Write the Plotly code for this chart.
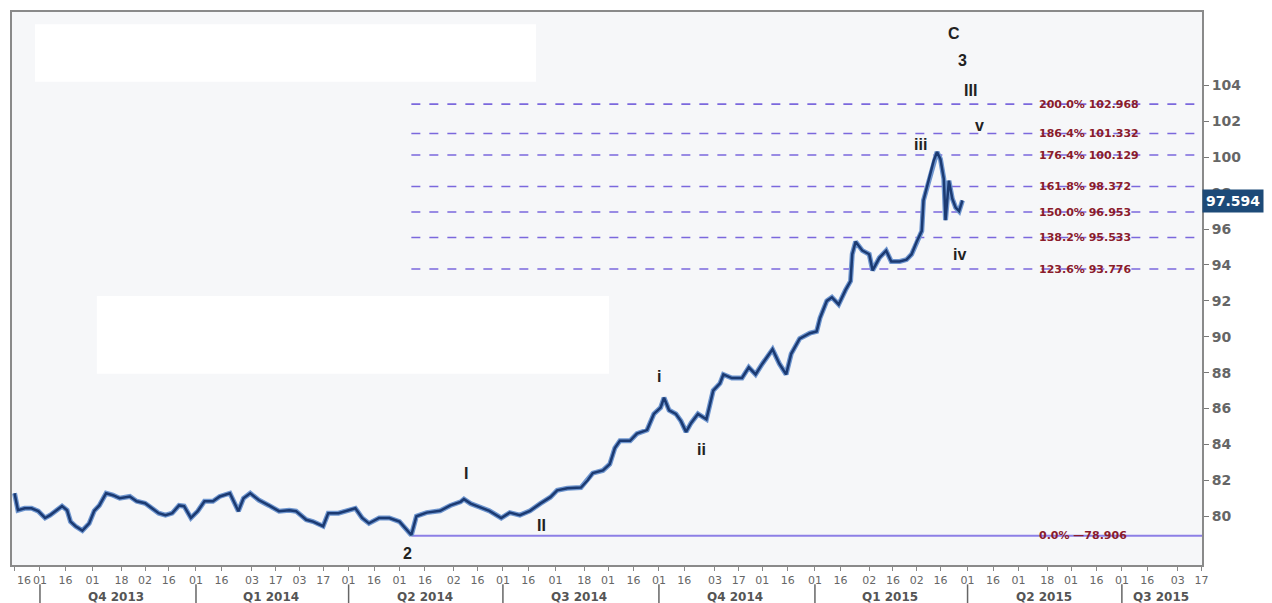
import plotly.graph_objects as go

# ---------------- data ----------------
dates = [
    "2013-09-16", "2013-09-18", "2013-09-22", "2013-09-26", "2013-09-30", "2013-10-04",
    "2013-10-07", "2013-10-11", "2013-10-14", "2013-10-17", "2013-10-19", "2013-10-22",
    "2013-10-26", "2013-10-30", "2013-11-02", "2013-11-05", "2013-11-09", "2013-11-13",
    "2013-11-17", "2013-11-23", "2013-11-27", "2013-12-02", "2013-12-06", "2013-12-10",
    "2013-12-14", "2013-12-18", "2013-12-22", "2013-12-25", "2013-12-29", "2014-01-02",
    "2014-01-06", "2014-01-11", "2014-01-15", "2014-01-21", "2014-01-26", "2014-01-29",
    "2014-02-02", "2014-02-07", "2014-02-13", "2014-02-19", "2014-02-25", "2014-03-01",
    "2014-03-07", "2014-03-11", "2014-03-17", "2014-03-20", "2014-03-26", "2014-04-01",
    "2014-04-05", "2014-04-09", "2014-04-13", "2014-04-19", "2014-04-25", "2014-05-01",
    "2014-05-06", "2014-05-08", "2014-05-11", "2014-05-17", "2014-05-25", "2014-05-31",
    "2014-06-06", "2014-06-08", "2014-06-12", "2014-06-18", "2014-06-23", "2014-06-30",
    "2014-07-05", "2014-07-11", "2014-07-17", "2014-07-23", "2014-07-29", "2014-08-02",
    "2014-08-08", "2014-08-16", "2014-08-20", "2014-08-23", "2014-08-29", "2014-09-02",
    "2014-09-05", "2014-09-08", "2014-09-14", "2014-09-18", "2014-09-24", "2014-09-28",
    "2014-10-02", "2014-10-04", "2014-10-07", "2014-10-11", "2014-10-14", "2014-10-17",
    "2014-10-20", "2014-10-24", "2014-10-29", "2014-11-02", "2014-11-06", "2014-11-08",
    "2014-11-13", "2014-11-19", "2014-11-23", "2014-11-27", "2014-12-01", "2014-12-07",
    "2014-12-11", "2014-12-15", "2014-12-18", "2014-12-23", "2014-12-29", "2015-01-02",
    "2015-01-04", "2015-01-08", "2015-01-11", "2015-01-15", "2015-01-19", "2015-01-22",
    "2015-01-23", "2015-01-25", "2015-01-29", "2015-02-02", "2015-02-04", "2015-02-08",
    "2015-02-12", "2015-02-15", "2015-02-20", "2015-02-24", "2015-02-27", "2015-03-02",
    "2015-03-05", "2015-03-06", "2015-03-09", "2015-03-12", "2015-03-14", "2015-03-16",
    "2015-03-18", "2015-03-19", "2015-03-21", "2015-03-23", "2015-03-25", "2015-03-27",
    "2015-03-29",
]
prices = [
    81.28, 80.33, 80.44, 80.44, 80.28, 79.9,
    80.06, 80.33, 80.56, 80.33, 79.7, 79.44,
    79.2, 79.6, 80.3, 80.6, 81.28, 81.17,
    81.0, 81.1, 80.83, 80.72, 80.44, 80.17,
    80.06, 80.17, 80.6, 80.56, 79.9, 80.28,
    80.83, 80.83, 81.1, 81.28, 80.28, 81.0,
    81.28, 80.9, 80.6, 80.28, 80.33, 80.28,
    79.8, 79.7, 79.44, 80.17, 80.17, 80.33,
    80.44, 79.9, 79.6, 79.9, 79.9, 79.7,
    79.2, 78.95, 80.0, 80.2, 80.3, 80.6,
    80.8, 80.95, 80.7, 80.5, 80.3, 79.9,
    80.2, 80.06, 80.3, 80.7, 81.06, 81.44,
    81.56, 81.6, 82.0, 82.4, 82.55, 82.9,
    83.8, 84.2, 84.2, 84.6, 84.8, 85.7,
    86.05, 86.6, 85.9, 85.7, 85.3, 84.7,
    85.2, 85.7, 85.4, 87.0, 87.4, 87.9,
    87.7, 87.7, 88.3, 87.9, 88.5, 89.3,
    88.5, 87.9, 89.05, 89.9, 90.2, 90.3,
    91.05, 92.0, 92.2, 91.8, 92.6, 93.1,
    94.6, 95.3, 94.8, 94.6, 93.7, 94.4,
    94.8, 94.2, 94.2, 94.3, 94.6, 95.3,
    95.9, 97.6, 98.7, 99.8, 100.3, 99.9,
    98.8, 96.5, 98.7, 97.7, 97.2, 97.0,
    97.6,
]
last_price = 97.594

fib_pcts = ["200.0%", "186.4%", "176.4%", "161.8%", "150.0%", "138.2%", "123.6%"]
fib_vals = [102.968, 101.332, 100.129, 98.372, 96.953, 95.533, 93.776]
base_pct = "0.0%"
base_val = 78.906
fib_start = "2014-05-08"

wave_labels = ["C", "3", "III", "v", "iii", "iv", "i", "ii", "I", "II", "2"]
wave_dates = ["2015-03-24", "2015-03-29", "2015-04-03", "2015-04-08", "2015-03-04",
              "2015-03-27", "2014-10-01", "2014-10-26", "2014-06-09", "2014-07-24",
              "2014-05-06"]
wave_vals = [106.9, 105.4, 103.7, 101.8, 100.7, 94.6, 87.8, 83.7, 82.4, 79.5, 77.9]

tick_dates = [
    "2013-09-16", "2013-10-01", "2013-10-16", "2013-11-01", "2013-11-18", "2013-12-02",
    "2013-12-16", "2014-01-01", "2014-01-16", "2014-02-03", "2014-02-17", "2014-03-03",
    "2014-03-17", "2014-04-01", "2014-04-16", "2014-05-01", "2014-05-16", "2014-06-02",
    "2014-06-16", "2014-07-01", "2014-07-16", "2014-08-01", "2014-08-18", "2014-09-01",
    "2014-09-16", "2014-10-01", "2014-10-16", "2014-11-03", "2014-11-17", "2014-12-01",
    "2014-12-16", "2015-01-01", "2015-01-16", "2015-02-02", "2015-02-16", "2015-03-02",
    "2015-03-16", "2015-04-01", "2015-04-16", "2015-05-01", "2015-05-18", "2015-06-01",
    "2015-06-16", "2015-07-01", "2015-07-16", "2015-08-03", "2015-08-17",
]
tick_text = [d[-2:] for d in tick_dates]

quarter_starts = ["2013-10-01", "2014-01-01", "2014-04-01", "2014-07-01",
                  "2014-10-01", "2015-01-01", "2015-04-01", "2015-07-01"]
quarter_mids = ["2013-11-15", "2014-02-14", "2014-05-16", "2014-08-15",
                "2014-11-15", "2015-02-14", "2015-05-16", "2015-07-24"]
quarter_names = ["Q4 2013", "Q1 2014", "Q2 2014", "Q3 2014",
                 "Q4 2014", "Q1 2015", "Q2 2015", "Q3 2015"]

x_range = ["2013-09-14 12:00", "2015-08-17 06:00"]
y_range = [77.28, 108.1]
y_ticks = list(range(80, 105, 2))

# ---------------- figure ----------------
fig = go.Figure()

FIB_COLOR = "#7b68dd"
LABEL_RED = "#8b1c2c"
TICK_FONT = dict(family="DejaVu Sans", size=11, color="#666666")

for p, v in zip(fib_pcts, fib_vals):
    fig.add_trace(go.Scatter(x=[fib_start, x_range[1]], y=[v, v], mode="lines",
                             line=dict(color=FIB_COLOR, width=1.6, dash="dash"),
                             hoverinfo="skip", showlegend=False))
fig.add_trace(go.Scatter(x=[fib_start, x_range[1]], y=[base_val, base_val], mode="lines",
                         line=dict(color="#8c7fe6", width=2),
                         hoverinfo="skip", showlegend=False))

# price line (light edge + dark core)
fig.add_trace(go.Scatter(x=dates, y=prices, mode="lines",
                         line=dict(color="#6f96cf", width=5),
                         hoverinfo="skip", showlegend=False))
fig.add_trace(go.Scatter(x=dates, y=prices, mode="lines",
                         line=dict(color="#1b3a72", width=2.5),
                         showlegend=False))

annotations = []
for p, v in zip(fib_pcts + [base_pct], fib_vals + [base_val]):
    txt = f"{p} {v:.3f}" if p != base_pct else f"{p} \u2014{v:.3f}"
    annotations.append(dict(x=0.861, xref="paper", y=v, yref="y", text=txt,
                            showarrow=False, xanchor="left", yanchor="middle",
                            font=dict(family="DejaVu Sans", size=11,
                                      color=LABEL_RED, weight="bold")))

for t, d, v in zip(wave_labels, wave_dates, wave_vals):
    annotations.append(dict(x=d, xref="x", y=v, yref="y", text=t, showarrow=False,
                            font=dict(family="Liberation Sans, Arial", size=16,
                                      color="#222222", weight="bold")))

annotations.append(dict(x=1.0, xref="paper", y=last_price, yref="y",
                        text=f"{last_price:.3f}", showarrow=False,
                        xanchor="left", yanchor="middle", bgcolor="#1d4a78",
                        borderpad=3,
                        font=dict(family="DejaVu Sans", size=14, color="white",
                                  weight="bold")))

# first tick label sits at the very left edge; draw it left-anchored so it stays visible
annotations.append(dict(x=tick_dates[0], xref="x", y=-0.012, yref="paper",
                        text=tick_text[0], showarrow=False, xanchor="left",
                        yanchor="top", font=TICK_FONT))
axis_tick_text = [""] + tick_text[1:]

for q, m in zip(quarter_names, quarter_mids):
    annotations.append(dict(x=m, xref="x", y=-0.058, yref="paper", text=q,
                            showarrow=False, yanchor="middle",
                            font=dict(family="DejaVu Sans", size=12, color="#555555",
                                      weight="bold")))

shapes = []
for qs in quarter_starts:
    shapes.append(dict(type="line", xref="x", yref="paper", x0=qs, x1=qs,
                       y0=-0.035, y1=-0.07, line=dict(color="#666666", width=1.5)))
# blank white boxes in the plot area
shapes.append(dict(type="rect", xref="paper", yref="paper", x0=0.0193, x1=0.4404,
                   y0=0.874, y1=0.978, fillcolor="white", line=dict(width=0),
                   layer="below"))
shapes.append(dict(type="rect", xref="paper", yref="paper", x0=0.0713, x1=0.5017,
                   y0=0.346, y1=0.4865, fillcolor="white", line=dict(width=0),
                   layer="below"))

# the page adds an 8px body margin, so the figure is 8px smaller on each side
fig.update_layout(
    width=1264, height=595,
    margin=dict(l=2, r=70, t=2, b=38),
    paper_bgcolor="white",
    plot_bgcolor="#f6f7f9",
    annotations=annotations,
    shapes=shapes,
    showlegend=False,
    xaxis=dict(type="date", range=x_range, tickmode="array", tickvals=tick_dates,
               ticktext=axis_tick_text, ticks="outside", ticklen=4, tickcolor="#888888",
               tickfont=TICK_FONT,
               showgrid=False, showline=True, linecolor="#8a8a8a", linewidth=2,
               mirror=True, zeroline=False),
    yaxis=dict(range=y_range, side="right", tickmode="array", tickvals=y_ticks,
               ticks="outside", ticklen=5, tickcolor="#777777",
               tickfont=dict(family="DejaVu Sans", size=14, color="#666666",
                             weight="bold"),
               showgrid=False, showline=True, linecolor="#8a8a8a", linewidth=2,
               mirror=True, zeroline=False),
)

fig.write_html("out.html")
